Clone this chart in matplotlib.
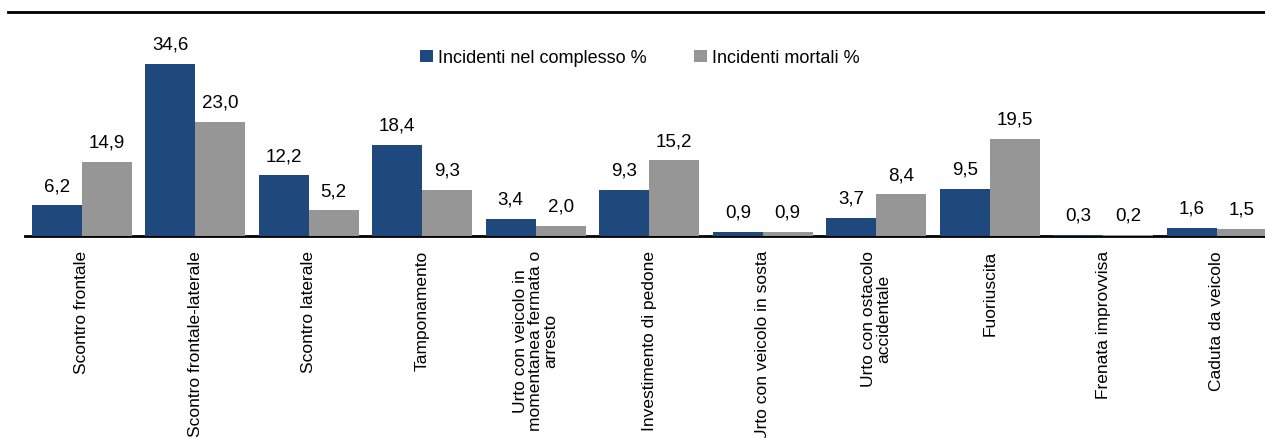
import matplotlib
matplotlib.use("Agg")
import matplotlib.pyplot as plt
import numpy as np
from matplotlib.font_manager import fontManager

names = {f.name for f in fontManager.ttflist}
fam = "Liberation Sans Narrow" if "Liberation Sans Narrow" in names else "Liberation Sans"
plt.rcParams['font.family'] = [fam, 'DejaVu Sans']

categories = ["Scontro frontale", "Scontro frontale-laterale", "Scontro laterale",
              "Tamponamento", "Urto con veicolo in\nmomentanea fermata o\narresto",
              "Investimento di pedone", "Urto con veicolo in sosta",
              "Urto con ostacolo\naccidentale", "Fuoriuscita", "Frenata improvvisa",
              "Caduta da veicolo"]
complessivi = [6.2, 34.6, 12.2, 18.4, 3.4, 9.3, 0.9, 3.7, 9.5, 0.3, 1.6]
mortali = [14.9, 23.0, 5.2, 9.3, 2.0, 15.2, 0.9, 8.4, 19.5, 0.2, 1.5]
series_names = ["Incidenti nel complesso %", "Incidenti mortali %"]

blue = "#1f497d"
gray = "#969696"

fig = plt.figure(figsize=(12.65, 4.39), dpi=100)
W, H = 1265, 439
left = 25 / W
width = 11 * 113.5 / W
bottom = (H - 237) / H
ax = fig.add_axes([left, bottom, width, (237 - 20) / H])
ymax = 217 / (172 / 34.6)
ax.set_ylim(0, ymax)
x = np.arange(len(categories))
bw = 0.44
b1 = ax.bar(x - bw / 2, complessivi, bw, color=blue, label=series_names[0], zorder=3)
b2 = ax.bar(x + bw / 2, mortali, bw, color=gray, label=series_names[1], zorder=3)
ax.set_xlim(-0.5, len(categories) - 0.5)

for rects, vals in ((b1, complessivi), (b2, mortali)):
    for r, v in zip(rects, vals):
        ax.annotate(f"{v:.1f}".replace(".", ","), (r.get_x() + r.get_width() / 2, v),
                    xytext=(0, 8), textcoords="offset points", ha="center", va="bottom",
                    fontsize=13.5)

ax.set_xticks(x)
ax.set_xticklabels(categories, rotation=90, fontsize=12.5, va="top", ha="center",
                   linespacing=1.0)
ax.tick_params(axis="x", length=0, pad=10)
ax.set_yticks([])
for s in ["left", "right", "top"]:
    ax.spines[s].set_visible(False)
ax.spines["bottom"].set_linewidth(2)
ax.spines["bottom"].set_color("black")
ax.spines["bottom"].set_zorder(2)

leg = ax.legend(loc="upper left", bbox_to_anchor=((404 - 25) / (11 * 113.5), 1 - 14 / 217),
                ncol=2, frameon=False, fontsize=13, handlelength=0.7, handleheight=0.7,
                handletextpad=0.3, columnspacing=2.6)

fig.add_artist(plt.Line2D([8 / W, 1.0], [1 - 13 / H, 1 - 13 / H], color="black", lw=2))

fig.savefig("out.png", dpi=100)
